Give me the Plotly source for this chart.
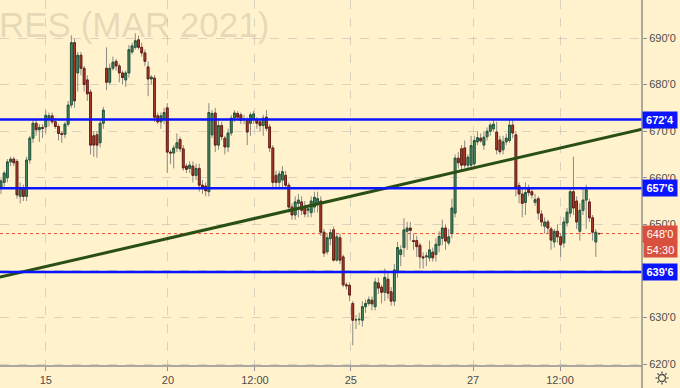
import math
import plotly.graph_objects as go

# ---------------- data ----------------
opens = [658.0,659.0,660.0,663.4,664.0,663.5,656.0,657.8,656.0,663.8,668.5,671.7,670.3,670.8,670.9,672.5,673.3,672.0,671.0,669.5,
         669.3,671.5,675.6,689.0,682.5,686.3,683.5,681.0,678.4,669.0,669.2,667.5,671.7,683.5,680.5,683.5,685.0,684.0,682.5,681.0,
         682.5,687.0,688.0,689.6,688.0,686.8,683.8,681.2,681.4,673.3,672.0,672.5,675.0,665.5,665.3,666.4,668.2,666.2,662.5,662.0,
         662.5,660.5,662.0,658.4,658.2,657.0,669.2,673.9,667.0,671.2,668.5,666.6,669.6,672.8,673.8,673.5,672.5,672.3,671.7,672.5,
         672.5,672.0,671.2,673.0,670.9,666.4,660.5,659.0,659.5,660.5,658.4,653.7,652.0,654.5,654.8,653.5,653.0,652.5,653.7,654.5,
         655.0,648.3,644.1,646.9,648.8,642.3,647.1,643.0,637.0,636.9,633.0,629.5,629.5,629.4,632.3,633.0,633.7,632.3,637.4,636.5,
         635.4,638.2,635.5,633.5,640.0,643.5,645.0,648.5,649.2,646.5,646.5,645.5,643.0,643.0,642.8,644.0,643.5,645.5,647.0,649.2,
         646.0,648.0,652.4,664.2,666.2,666.4,662.7,662.7,663.0,667.7,668.5,667.0,668.8,670.0,670.5,669.8,668.1,666.0,667.7,668.0,
         671.3,669.2,658.3,656.5,654.7,657.5,657.0,654.7,655.5,652.2,649.6,650.5,649.0,646.2,648.5,647.3,646.0,650.3,652.4,657.0,
         655.0,648.5,653.0,655.2,654.8,651.4,646.2,648.0]
highs = [659.8,661.5,664.0,664.5,664.5,664.0,659.0,658.5,664.5,669.0,672.5,672.5,671.5,671.5,674.5,674.0,674.0,672.8,671.5,670.0,
         672.0,676.5,690.6,689.8,687.0,687.0,684.0,682.0,679.0,670.0,670.0,672.5,675.2,688.0,684.5,686.0,685.5,684.5,683.0,683.0,
         688.5,689.0,691.0,690.5,689.0,687.5,685.0,682.0,682.0,674.0,674.0,675.0,676.0,666.0,667.0,669.5,668.8,667.0,663.0,663.5,
         663.5,663.0,663.0,659.5,659.0,676.0,674.5,675.0,672.5,672.0,669.0,670.5,673.5,674.5,674.3,674.0,673.5,673.0,674.0,674.3,
         673.0,672.8,673.5,674.5,671.5,667.0,661.5,661.5,662.5,661.5,659.0,654.5,656.0,656.5,656.0,655.0,654.0,656.0,657.0,657.0,
         656.0,649.0,648.0,649.0,649.5,648.2,648.0,643.5,637.5,637.5,633.5,630.5,631.0,633.5,633.8,634.5,634.5,638.5,638.5,637.0,
         640.5,639.5,636.5,641.5,646.2,645.5,651.3,650.5,650.5,648.0,647.5,646.0,644.0,644.0,646.5,645.0,647.0,648.5,651.0,650.0,
         649.0,655.5,665.0,665.5,667.0,668.0,665.0,669.0,669.0,670.0,669.5,670.0,670.8,671.8,672.4,672.0,669.0,669.0,669.5,672.5,
         672.5,670.0,659.0,658.0,659.0,658.5,657.5,656.5,656.0,653.0,651.5,651.0,649.5,649.0,650.0,648.0,651.5,653.5,658.0,664.5,
         656.0,654.5,658.0,658.5,655.5,652.0,649.0,648.2]
lows = [656.5,658.0,659.0,662.5,662.5,655.5,654.5,655.0,655.0,663.0,667.5,669.0,667.7,668.5,669.5,671.0,671.5,670.5,668.0,667.5,
        668.5,671.0,675.0,675.0,678.5,682.0,678.5,676.5,665.0,664.5,664.3,666.5,670.5,678.8,680.0,683.0,683.0,680.5,680.0,679.5,
        681.5,686.5,687.5,687.5,686.0,684.0,677.5,680.0,672.0,671.5,670.5,671.5,661.0,663.0,662.0,665.5,665.5,661.5,661.0,661.0,
        659.0,659.5,657.0,656.5,656.0,656.0,668.5,665.5,666.0,668.0,665.0,665.5,669.0,672.0,672.5,671.5,671.5,667.0,669.0,671.5,
        670.5,670.0,669.0,670.0,665.5,657.5,658.0,658.0,658.0,657.5,652.5,651.0,651.0,651.5,652.0,651.5,651.5,651.5,652.5,652.5,
        647.5,643.0,643.5,645.5,642.0,642.0,641.5,636.5,636.0,633.5,624.0,627.5,628.4,628.0,631.0,632.5,631.5,631.5,635.0,633.0,
        633.5,634.0,632.5,632.5,638.5,641.0,643.0,644.5,646.5,644.5,643.0,640.5,640.5,641.0,642.0,642.0,642.0,644.0,645.5,644.5,
        645.5,647.0,651.5,662.0,661.5,662.0,662.0,662.0,662.5,667.0,667.5,666.0,668.0,669.0,670.0,665.0,665.0,665.0,667.0,667.5,
        668.5,656.0,654.5,651.5,652.0,656.0,655.5,654.0,651.0,649.5,648.0,648.0,644.5,645.0,646.0,643.0,645.0,649.5,651.5,652.0,
        649.0,646.5,652.0,649.0,650.5,646.5,643.0,647.8]
closes = [659.3,661.0,663.4,664.0,663.2,656.3,657.8,656.0,663.8,668.5,671.7,670.3,670.8,670.6,673.4,673.3,672.0,671.0,669.5,669.3,
          671.5,675.6,689.0,676.5,686.3,683.5,680.0,678.0,667.0,667.0,667.0,671.7,674.5,680.5,683.5,684.8,684.0,682.5,681.5,682.5,
          687.5,688.3,689.4,688.0,686.8,685.0,681.2,681.6,673.0,672.0,673.3,674.0,665.5,665.3,666.4,667.5,666.2,662.1,661.8,662.7,
          660.5,662.0,658.4,657.8,657.2,674.0,673.8,667.0,671.2,668.8,666.6,669.6,672.8,673.9,673.0,672.3,672.6,669.8,673.5,673.7,
          671.7,671.2,672.8,670.6,666.4,659.0,659.0,660.8,661.3,658.4,653.7,652.0,654.8,655.2,653.0,652.2,653.3,655.0,655.8,655.5,
          648.3,643.8,647.1,648.2,642.3,647.3,642.3,637.0,636.8,634.8,629.4,629.5,629.6,632.3,633.0,633.8,632.9,637.6,636.3,635.4,
          638.6,635.2,633.5,640.2,645.0,644.5,648.8,649.2,648.7,646.3,645.2,643.0,642.8,643.2,644.5,642.8,645.7,647.4,649.2,646.4,
          647.3,653.5,664.2,663.2,662.7,662.7,664.4,666.9,668.0,668.6,667.9,668.7,670.0,671.3,671.5,666.0,665.6,667.7,668.5,671.3,
          669.6,658.0,656.5,654.5,656.8,656.8,656.3,655.3,652.4,650.5,650.5,649.2,646.6,648.5,647.3,645.6,650.5,652.6,657.0,653.5,
          650.5,653.0,655.2,657.4,651.4,648.3,648.3,648.0]

bars = list(range(len(opens)))

tick_pos = [14, 52.2, 79.4, 109.4, 147.6, 174.8]
tick_labels = ["15", "20", "12:00", "25", "27", "12:00"]

price_ticks = [620, 630, 640, 650, 660, 670, 680, 690]
price_tick_labels = ["620'0", "630'0", "640'0", "650'0", "660'0", "670'0", "680'0", "690'0"]

levels = [672.5, 657.75, 639.75]
level_labels = ["672'4", "657'6", "639'6"]

last_price = 648.0
last_label = "648'0"
countdown = "54:30"

trend_bars = [0, 187]
trend_prices = [638.7, 668.3]

x_range = [-0.31, 200.44]
y_range = [619.57, 698.16]

# ---------------- figure ----------------
BG = "#fff2cc"
GREEN_FILL = "#4c9268"
GREEN_EDGE = "#24563a"
RED_FILL = "#b5412f"
RED_EDGE = "#6a1e14"
WICK = "#8a8a86"
FONT = "Liberation Sans"

body_hi = [max(o, c) for o, c in zip(opens, closes)]
body_lo = [min(o, c) for o, c in zip(opens, closes)]

fig = go.Figure()
fig.add_trace(go.Candlestick(
    x=bars, open=opens, high=highs, low=lows, close=closes,
    increasing=dict(line=dict(color=WICK, width=1), fillcolor=GREEN_FILL),
    decreasing=dict(line=dict(color=WICK, width=1), fillcolor=RED_FILL),
    whiskerwidth=0, showlegend=False, hoverinfo="skip"))
fig.add_trace(go.Candlestick(
    x=bars, open=opens, high=body_hi, low=body_lo, close=closes,
    increasing=dict(line=dict(color=GREEN_EDGE, width=1), fillcolor=GREEN_FILL),
    decreasing=dict(line=dict(color=RED_EDGE, width=1), fillcolor=RED_FILL),
    whiskerwidth=0, showlegend=False, hoverinfo="skip"))

# trend line extended to the plot edges
slope = (trend_prices[1] - trend_prices[0]) / (trend_bars[1] - trend_bars[0])
tx = [x_range[0], x_range[1]]
ty = [trend_prices[0] + slope * (v - trend_bars[0]) for v in tx]
fig.add_trace(go.Scatter(x=tx, y=ty, mode="lines", line=dict(color="#2a4f15", width=3),
                         showlegend=False, hoverinfo="skip"))

shapes = []
for lv in levels:
    shapes.append(dict(type="line", xref="paper", x0=0, x1=1, yref="y", y0=lv, y1=lv,
                       line=dict(color="#0a14ff", width=2.5), layer="above"))
shapes.append(dict(type="line", xref="paper", x0=0, x1=1, yref="y", y0=last_price, y1=last_price,
                   line=dict(color="#ee4a36", width=1, dash="dot"), layer="below"))
# axis separators
shapes.append(dict(type="line", xref="paper", x0=1, x1=1, yref="paper", y0=-0.07, y1=1,
                   line=dict(color="#8f8f8f", width=1.5)))
shapes.append(dict(type="line", xref="paper", x0=0, x1=1, yref="paper", y0=0, y1=0,
                   line=dict(color="#8f8f8f", width=1.5)))

# settings (sun-like) icon in the bottom-right corner, in pixel offsets from the plot corner
ICON = "#505050"
cx, cy = 20, -12
shapes.append(dict(type="circle", xref="paper", xsizemode="pixel", xanchor=1, x0=cx - 3.5, x1=cx + 3.5,
                   yref="paper", ysizemode="pixel", yanchor=0, y0=cy - 3.5, y1=cy + 3.5,
                   line=dict(color=ICON, width=1.3)))
for k in range(8):
    a = k * math.pi / 4
    shapes.append(dict(type="line", xref="paper", xsizemode="pixel", xanchor=1,
                       x0=cx + 4.5 * math.cos(a), x1=cx + 6.5 * math.cos(a),
                       yref="paper", ysizemode="pixel", yanchor=0,
                       y0=cy + 4.5 * math.sin(a), y1=cy + 6.5 * math.sin(a),
                       line=dict(color=ICON, width=1.3)))

annotations = []
for lv, lab in zip(levels, level_labels):
    annotations.append(dict(xref="paper", x=1, xanchor="left", xshift=0, yref="y", y=lv,
                            text="<b>" + lab + "</b>", showarrow=False, bgcolor="#0a14ff",
                            font=dict(color="white", size=11, family=FONT),
                            width=30, height=12, borderpad=2))
annotations.append(dict(xref="paper", x=1, xanchor="left", xshift=0, yref="y", y=last_price,
                        text=last_label, showarrow=False, bgcolor="#d9503f",
                        font=dict(color="white", size=11, family=FONT),
                        width=30, height=12, borderpad=2))
annotations.append(dict(xref="paper", x=1, xanchor="left", xshift=1, yref="y", y=last_price, yshift=-16,
                        text=countdown, showarrow=False, bgcolor="#d9503f",
                        font=dict(color="white", size=11, family=FONT),
                        width=29, height=11, borderpad=2))
# watermark
annotations.append(dict(xref="paper", x=0, xanchor="left", xshift=-3, yref="paper", y=1.0, yanchor="top",
                        yshift=-3, text="RES (MAR 2021)", showarrow=False,
                        font=dict(color="rgba(140,130,110,0.22)", size=35, family=FONT)))

fig.update_layout(
    width=680, height=388,
    margin=dict(l=0, r=38, t=0, b=22),
    paper_bgcolor=BG, plot_bgcolor=BG,
    boxgap=0.2,
    shapes=shapes, annotations=annotations,
    showlegend=False,
    xaxis=dict(range=x_range, rangeslider=dict(visible=False), tickvals=tick_pos, ticktext=tick_labels,
               showgrid=True, gridcolor="rgba(170,170,170,0.45)", griddash="dash", gridwidth=1,
               zeroline=False, ticks="outside", ticklen=4, tickcolor="#8f8f8f",
               tickfont=dict(size=11, color="#4d4d4d", family=FONT), fixedrange=True),
    yaxis=dict(range=y_range, side="right", tickvals=price_ticks, ticktext=price_tick_labels,
               showgrid=True, gridcolor="rgba(170,170,170,0.45)", griddash="dash", gridwidth=1,
               zeroline=False, ticks="outside", ticklen=4, tickcolor="#8f8f8f",
               tickfont=dict(size=11, color="#4d4d4d", family=FONT), fixedrange=True),
)

fig.write_html("out.html", config={"displayModeBar": False},
               post_script="document.body.style.margin='0';document.body.style.background='" + BG + "';")
